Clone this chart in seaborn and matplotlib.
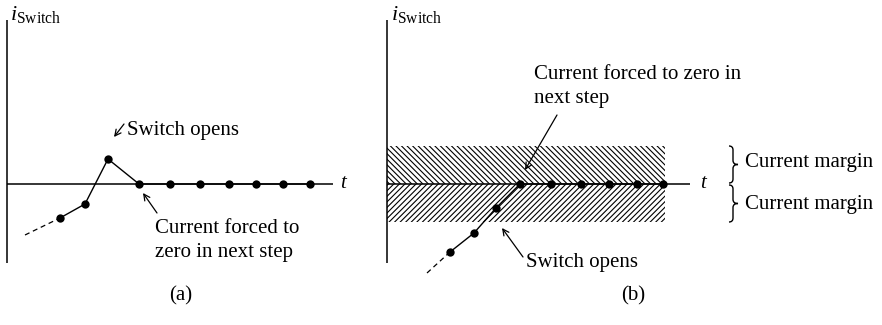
import matplotlib
matplotlib.use("Agg")
import matplotlib.pyplot as plt
import seaborn as sns
from matplotlib.path import Path
from matplotlib.patches import PathPatch

sns.set_theme(style="white")
plt.rcParams['font.family'] = ['Liberation Serif', 'DejaVu Serif']
plt.rcParams['mathtext.fontset'] = 'custom'
plt.rcParams['mathtext.rm'] = 'Liberation Serif'
plt.rcParams['mathtext.it'] = 'Liberation Serif:italic'
plt.rcParams['hatch.linewidth'] = 0.8
plt.rcParams['hatch.color'] = 'black'

# ---- data (time position, switch current) ----
t_a = [53, 78, 101, 132, 163, 193, 222, 249, 276, 303]
i_a = [-34, -20, 25, 0, 0, 0, 0, 0, 0, 0]
lead_t_a = [18, 53]
lead_i_a = [-51, -34]

t_b = [63, 87, 109, 133, 164, 194, 222, 250, 276]
i_b = [-68, -49, -24, 0, 0, 0, 0, 0, 0]
lead_t_b = [40, 63]
lead_i_b = [-89, -68]

margin = 38          # current margin (band half-height)
band_t = [0, 278]    # extent of hatched band

FS = 15
ink = 'black'

fig = plt.figure(figsize=(8.82, 3.25), dpi=100)
ax_a = fig.add_axes([0, 0, 370 / 882, 1])
ax_b = fig.add_axes([370 / 882, 0, 512 / 882, 1])
ax_a.set_xlim(-7, 363)
ax_b.set_xlim(-17, 495)
for ax in (ax_a, ax_b):
    ax.set_ylim(-141, 184)
    ax.set_axis_off()


def axes_frame(ax, tmax, tlabel_x, lab_x):
    ax.plot([0, 0], [164, -79], color=ink, lw=1.1, solid_capstyle='butt')
    ax.plot([0, tmax], [0, 0], color=ink, lw=1.1, solid_capstyle='butt')
    ax.text(tlabel_x, 0, 't', fontsize=FS, style='italic', va='center', ha='left', color=ink)
    ax.text(lab_x, 164, r'$i_{\mathrm{Switch}}$', fontsize=FS + 1, va='baseline', ha='left', color=ink)


def arrow(ax, tail, tip):
    ax.annotate('', xy=tip, xytext=tail,
                arrowprops=dict(arrowstyle='->', lw=0.9, color=ink,
                                shrinkA=0, shrinkB=0, mutation_scale=11))


def brace(ax, x_left, x_mid, x_tip, y_top, y_bot, r=4):
    y_mid = (y_top + y_bot) / 2
    verts = [(x_left, y_top), (x_mid, y_top), (x_mid, y_top - r),
             (x_mid, y_mid + r), (x_mid, y_mid), (x_tip, y_mid),
             (x_mid, y_mid), (x_mid, y_mid - r),
             (x_mid, y_bot + r), (x_mid, y_bot), (x_left, y_bot)]
    codes = [Path.MOVETO, Path.CURVE3, Path.CURVE3,
             Path.LINETO, Path.CURVE3, Path.CURVE3,
             Path.CURVE3, Path.CURVE3,
             Path.LINETO, Path.CURVE3, Path.CURVE3]
    ax.add_patch(PathPatch(Path(verts, codes), fill=False, lw=1.0, color=ink))


# ---------------- panel (a) ----------------
axes_frame(ax_a, 326, 333, 3)
ax_a.plot(lead_t_a, lead_i_a, color=ink, lw=0.9, dashes=(4, 3))
sns.lineplot(x=t_a, y=i_a, ax=ax_a, color=ink, linewidth=1.0, sort=False, estimator=None)
sns.scatterplot(x=t_a, y=i_a, ax=ax_a, color=ink, s=36, linewidth=0, zorder=5)
arrow(ax_a, (117, 60), (107, 47))
ax_a.text(120, 53, 'Switch opens', fontsize=FS, va='center', ha='left', color=ink)
arrow(ax_a, (150, -29), (136, -9))
ax_a.text(148, -56.5, 'Current forced to\nzero in next step', fontsize=FS,
          va='center', ha='left', linespacing=1.38, color=ink)
ax_a.text(174, -112, '(a)', fontsize=FS, va='center', ha='center', color=ink)

# ---------------- panel (b) ----------------
ax_b.fill_between(band_t, 0, margin, facecolor='none', edgecolor=ink,
                  hatch='\\' * 6, linewidth=0)
ax_b.fill_between(band_t, -margin, 0, facecolor='none', edgecolor=ink,
                  hatch='/' * 6, linewidth=0)
axes_frame(ax_b, 303, 313, 4)
ax_b.plot(lead_t_b, lead_i_b, color=ink, lw=0.9, dashes=(4, 3))
sns.lineplot(x=t_b, y=i_b, ax=ax_b, color=ink, linewidth=1.0, sort=False, estimator=None)
sns.scatterplot(x=t_b, y=i_b, ax=ax_b, color=ink, s=36, linewidth=0, zorder=5)
arrow(ax_b, (170, 69), (138, 14))
ax_b.text(147, 97.5, 'Current forced to zero in\nnext step', fontsize=FS,
          va='center', ha='left', linespacing=1.38, color=ink)
arrow(ax_b, (136, -73), (115, -44))
ax_b.text(139, -78, 'Switch opens', fontsize=FS, va='center', ha='left', color=ink)

brace(ax_b, 342, 346, 351, margin, 1)
brace(ax_b, 342, 346, 351, -1, -margin)
ax_b.text(358, margin / 2 + 2, 'Current margin', fontsize=FS, va='center', ha='left', color=ink)
ax_b.text(358, -margin / 2 - 2, 'Current margin', fontsize=FS, va='center', ha='left', color=ink)
ax_b.text(246, -112, '(b)', fontsize=FS, va='center', ha='center', color=ink)

fig.savefig('out.png', dpi=100)
